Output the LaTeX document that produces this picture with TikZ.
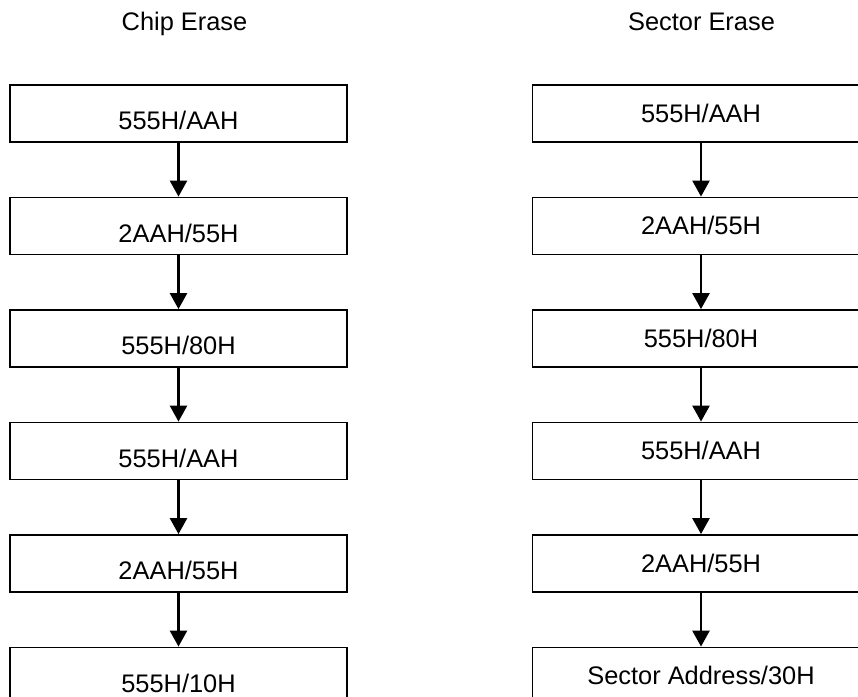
\documentclass[tikz,border=0pt]{standalone}
\usepackage{fontspec}
\setmainfont{Liberation Sans}
\usetikzlibrary{arrows.meta}
\begin{document}
\begin{tikzpicture}[x=1pt,y=-1pt,
  every node/.style={font=\fontsize{25.4}{30}\selectfont, inner sep=0pt},
  stepbox/.style={draw=black, line width=1.8pt, minimum width=337pt, minimum height=57pt},
  flow/.style={line width=2.5pt, -{Triangle[width=17pt,length=16pt]}}]
\useasboundingbox (0,0) rectangle (858,696);
\clip (0,0) rectangle (858,696);
% headers
\node[anchor=base] (hc) at (184.5,30) {Chip Erase};
\node[anchor=base] (hs) at (701.5,30) {Sector Erase};
% left column
\foreach \i/\t in {1/555H\slash AAH,2/2AAH\slash 55H,3/555H\slash 80H,4/555H\slash AAH,5/2AAH\slash 55H,6/555H\slash 10H}{
  \node[stepbox] (L\i) at (178.5,{113.5+112.5*(\i-1)}) {};
  \node (LT\i) at (178.5,{120.5+112.5*(\i-1)}) {\t};
}
% right column
\foreach \i/\t in {1/555H\slash AAH,2/2AAH\slash 55H,3/555H\slash 80H,4/555H\slash AAH,5/2AAH\slash 55H,6/Sector Address\slash 30H}{
  \node[stepbox] (R\i) at (701,{113.5+112.5*(\i-1)}) {};
  \node (RT\i) at (701,{113+112.5*(\i-1)}) {\t};
}
\foreach \i [evaluate=\i as \j using int(\i+1)] in {1,...,5}{
  \draw[flow] (L\i.south) -- (L\j.north);
  \draw[flow] (R\i.south) -- (R\j.north);
}
\end{tikzpicture}
\end{document}
